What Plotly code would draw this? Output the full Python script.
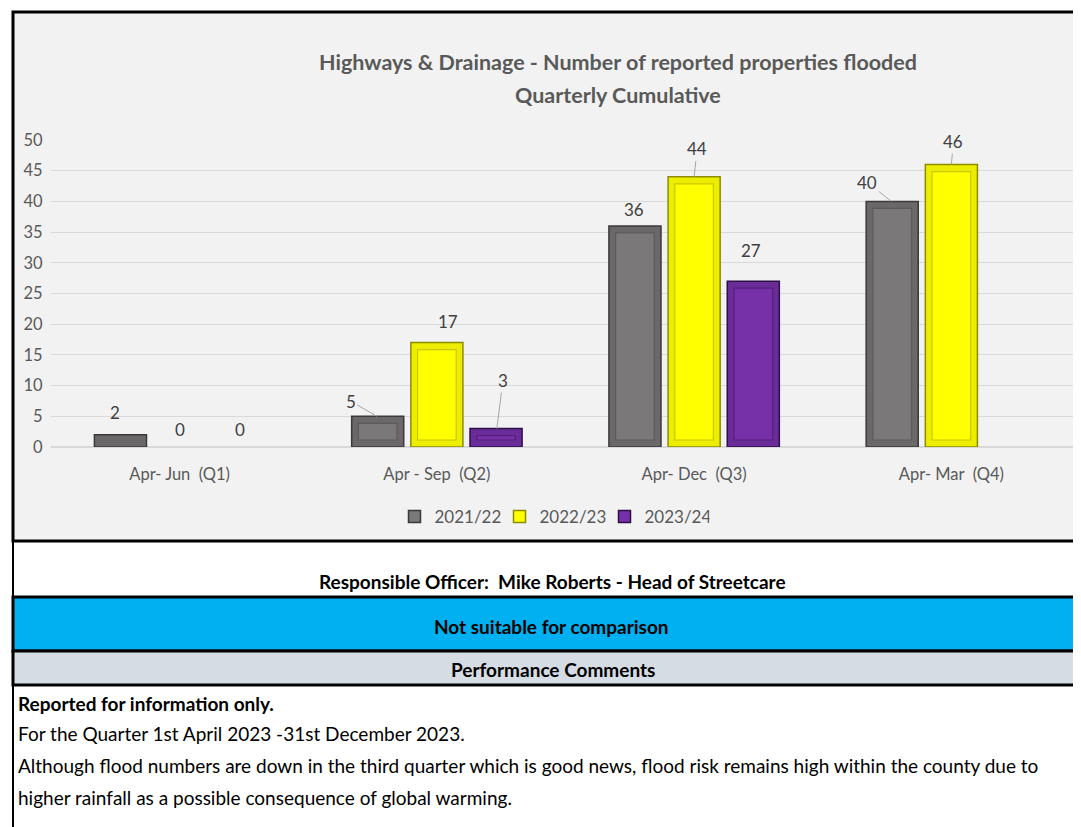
import plotly.graph_objects as go

quarters = ["Apr- Jun  (Q1)", "Apr - Sep  (Q2)", "Apr- Dec  (Q3)", "Apr- Mar  (Q4)"]
series_names = ["2021/22", "2022/23", "2023/24"]
values_2021 = [2, 5, 36, 40]
values_2022 = [0, 17, 44, 46]
values_2023 = [0, 3, 27, None]

# outer (bevel) colour, inner face colour, outline, inner rim line
bevel = ["#6a6868", "#eded00", "#692c98"]
faces = ["#7a7878", "#ffff00", "#7731a8"]
edges = ["#3a3a3a", "#8c8c00", "#2e1048"]
rims = ["#5c5a5a", "#c8c800", "#55207a"]

# data label placement (pixel offsets from bar top, leader line on/off)
label_offsets = [
    [(-5, -22, False), (-26, -15, True), (0, -16, False), (-24, -19, True)],
    [(0, -18, False), (11, -21, False), (3, -28, True), (2, -23, True)],
    [(0, -18, False), (6, -48, True), (-3, -31, False), (0, 0, False)],
]
SLOT = 60  # pixel distance between bars inside a group
INSET = 7  # bevel depth in pixels

FONT = "Lato, 'Open Sans', sans-serif"
OFF = 8  # page body margin
W, H = 1081, 827 - OFF
# plot area, page pixels
PL, PR, PT, PB = 51, 1080, 140, 447
YMAX = 50
unit_px = (PB - PT) / YMAX
d = INSET / unit_px


def fx(x):
    return (x - PL) / (PR - PL)


def fy(y):
    return (PB - y) / (PB - PT)


labels = [q.replace(" ", "\u00a0") for q in quarters]
all_values = [values_2021, values_2022, values_2023]

fig = go.Figure()
for i, (name, vals) in enumerate(zip(series_names, all_values)):
    fig.add_trace(go.Bar(
        x=labels, y=vals, name=name, offsetgroup=str(i), showlegend=False,
        marker=dict(color=bevel[i],
                    line=dict(color=edges[i], width=[0 if not v else 1.5 for v in vals])),
        cliponaxis=False,
    ))
for i, vals in enumerate(all_values):
    inner = [None if (v is None or v <= 2.2 * d) else v - 2 * d for v in vals]
    fig.add_trace(go.Bar(
        x=labels, y=inner, base=d, offsetgroup=str(i), width=0.15,
        marker=dict(color=faces[i], line=dict(color=rims[i], width=1.2)),
        showlegend=False, hoverinfo="skip",
    ))
# legend entries
for i, name in enumerate(series_names):
    fig.add_trace(go.Bar(
        x=labels, y=[None] * len(labels), name=name, offsetgroup=str(i),
        marker=dict(color=faces[i], line=dict(color=edges[i], width=1.5)),
    ))

annotations = []
for si, vals in enumerate(all_values):
    for qi, v in enumerate(vals):
        if v is None:
            continue
        dx, dy, arrow = label_offsets[si][qi]
        a = dict(x=labels[qi], y=v, xref="x", yref="y", text=str(v),
                 xshift=(si - 1) * SLOT,
                 font=dict(family=FONT, size=17, color="#404040"))
        if arrow:
            a.update(showarrow=True, ax=dx, ay=dy, arrowhead=0, arrowwidth=1,
                     arrowcolor="#a6a6a6", standoff=0)
        else:
            a.update(showarrow=False, xshift=(si - 1) * SLOT + dx, yshift=-dy)
        annotations.append(a)

shapes = []
# chart frame
shapes.append(dict(type="rect", xref="paper", yref="paper", layer="below",
                   x0=fx(13), x1=fx(1100), y0=fy(541), y1=fy(12),
                   fillcolor="#f2f2f2", line=dict(color="black", width=3)))
# blue row
shapes.append(dict(type="rect", xref="paper", yref="paper", layer="below",
                   x0=fx(13), x1=fx(1100), y0=fy(651), y1=fy(597),
                   fillcolor="#00b0f0", line=dict(color="black", width=3)))
# grey row
shapes.append(dict(type="rect", xref="paper", yref="paper", layer="below",
                   x0=fx(13), x1=fx(1100), y0=fy(685), y1=fy(651),
                   fillcolor="#d6dce4", line=dict(color="black", width=3)))
# left border down the page
shapes.append(dict(type="line", xref="paper", yref="paper", layer="below",
                   x0=fx(13), x1=fx(13), y0=fy(840), y1=fy(12),
                   line=dict(color="black", width=2)))


def note(text, x, y, bold=False, anchor="center", size=19, color="black"):
    annotations.append(dict(
        text=f"<b>{text}</b>" if bold else text,
        xref="paper", yref="paper", x=fx(x), y=fy(y),
        xanchor=anchor, yanchor="middle", showarrow=False,
        font=dict(family=FONT, size=size, color=color),
    ))


note("Highways & Drainage - Number of reported properties flooded", 618, 62, bold=True, size=21.5, color="#595959")
note("Quarterly Cumulative", 618, 95, bold=True, size=21.5, color="#595959")
note("Responsible Officer:\u00a0\u00a0Mike Roberts - Head of Streetcare", 552, 581, bold=True)
note("Not suitable for comparison", 551, 626, bold=True)
note("Performance Comments", 553, 669, bold=True)
note("Reported for information only.", 16, 703, bold=True, anchor="left")
note("For the Quarter 1st April 2023 -31st December 2023.", 16, 733, anchor="left")
note("Although flood numbers are down in the third quarter which is good news, flood risk remains high within the county due to",
     16, 765, anchor="left")
note("higher rainfall as a possible consequence of global warming.", 16, 797, anchor="left")

fig.update_layout(
    width=W, height=H,
    margin=dict(l=PL - OFF, r=W - (PR - OFF), t=PT - OFF, b=H - (PB - OFF), pad=0),
    paper_bgcolor="white",
    plot_bgcolor="rgba(0,0,0,0)",
    barmode="group",
    bargap=0.31,
    bargroupgap=0.12,
    font=dict(family=FONT, size=16, color="#595959"),
    xaxis=dict(showgrid=False, showline=False, ticks="outside", ticklen=12,
               tickcolor="rgba(0,0,0,0)", tickfont=dict(size=16.5, color="#595959")),
    yaxis=dict(range=[0, YMAX], dtick=5, gridcolor="#d9d9d9", zeroline=True, zerolinecolor="#d9d9d9",
               showline=False, ticks="outside", ticklen=4, tickcolor="rgba(0,0,0,0)",
               tickfont=dict(size=16.5, color="#595959")),
    legend=dict(orientation="h", xref="paper", yref="paper", x=fx(552), y=fy(517),
                xanchor="center", yanchor="middle", bgcolor="rgba(0,0,0,0)",
                font=dict(size=17, color="#595959"), itemwidth=30,
                entrywidth=60, entrywidthmode="pixels"),
    shapes=shapes,
    annotations=annotations,
)

fig.write_html("out.html")
